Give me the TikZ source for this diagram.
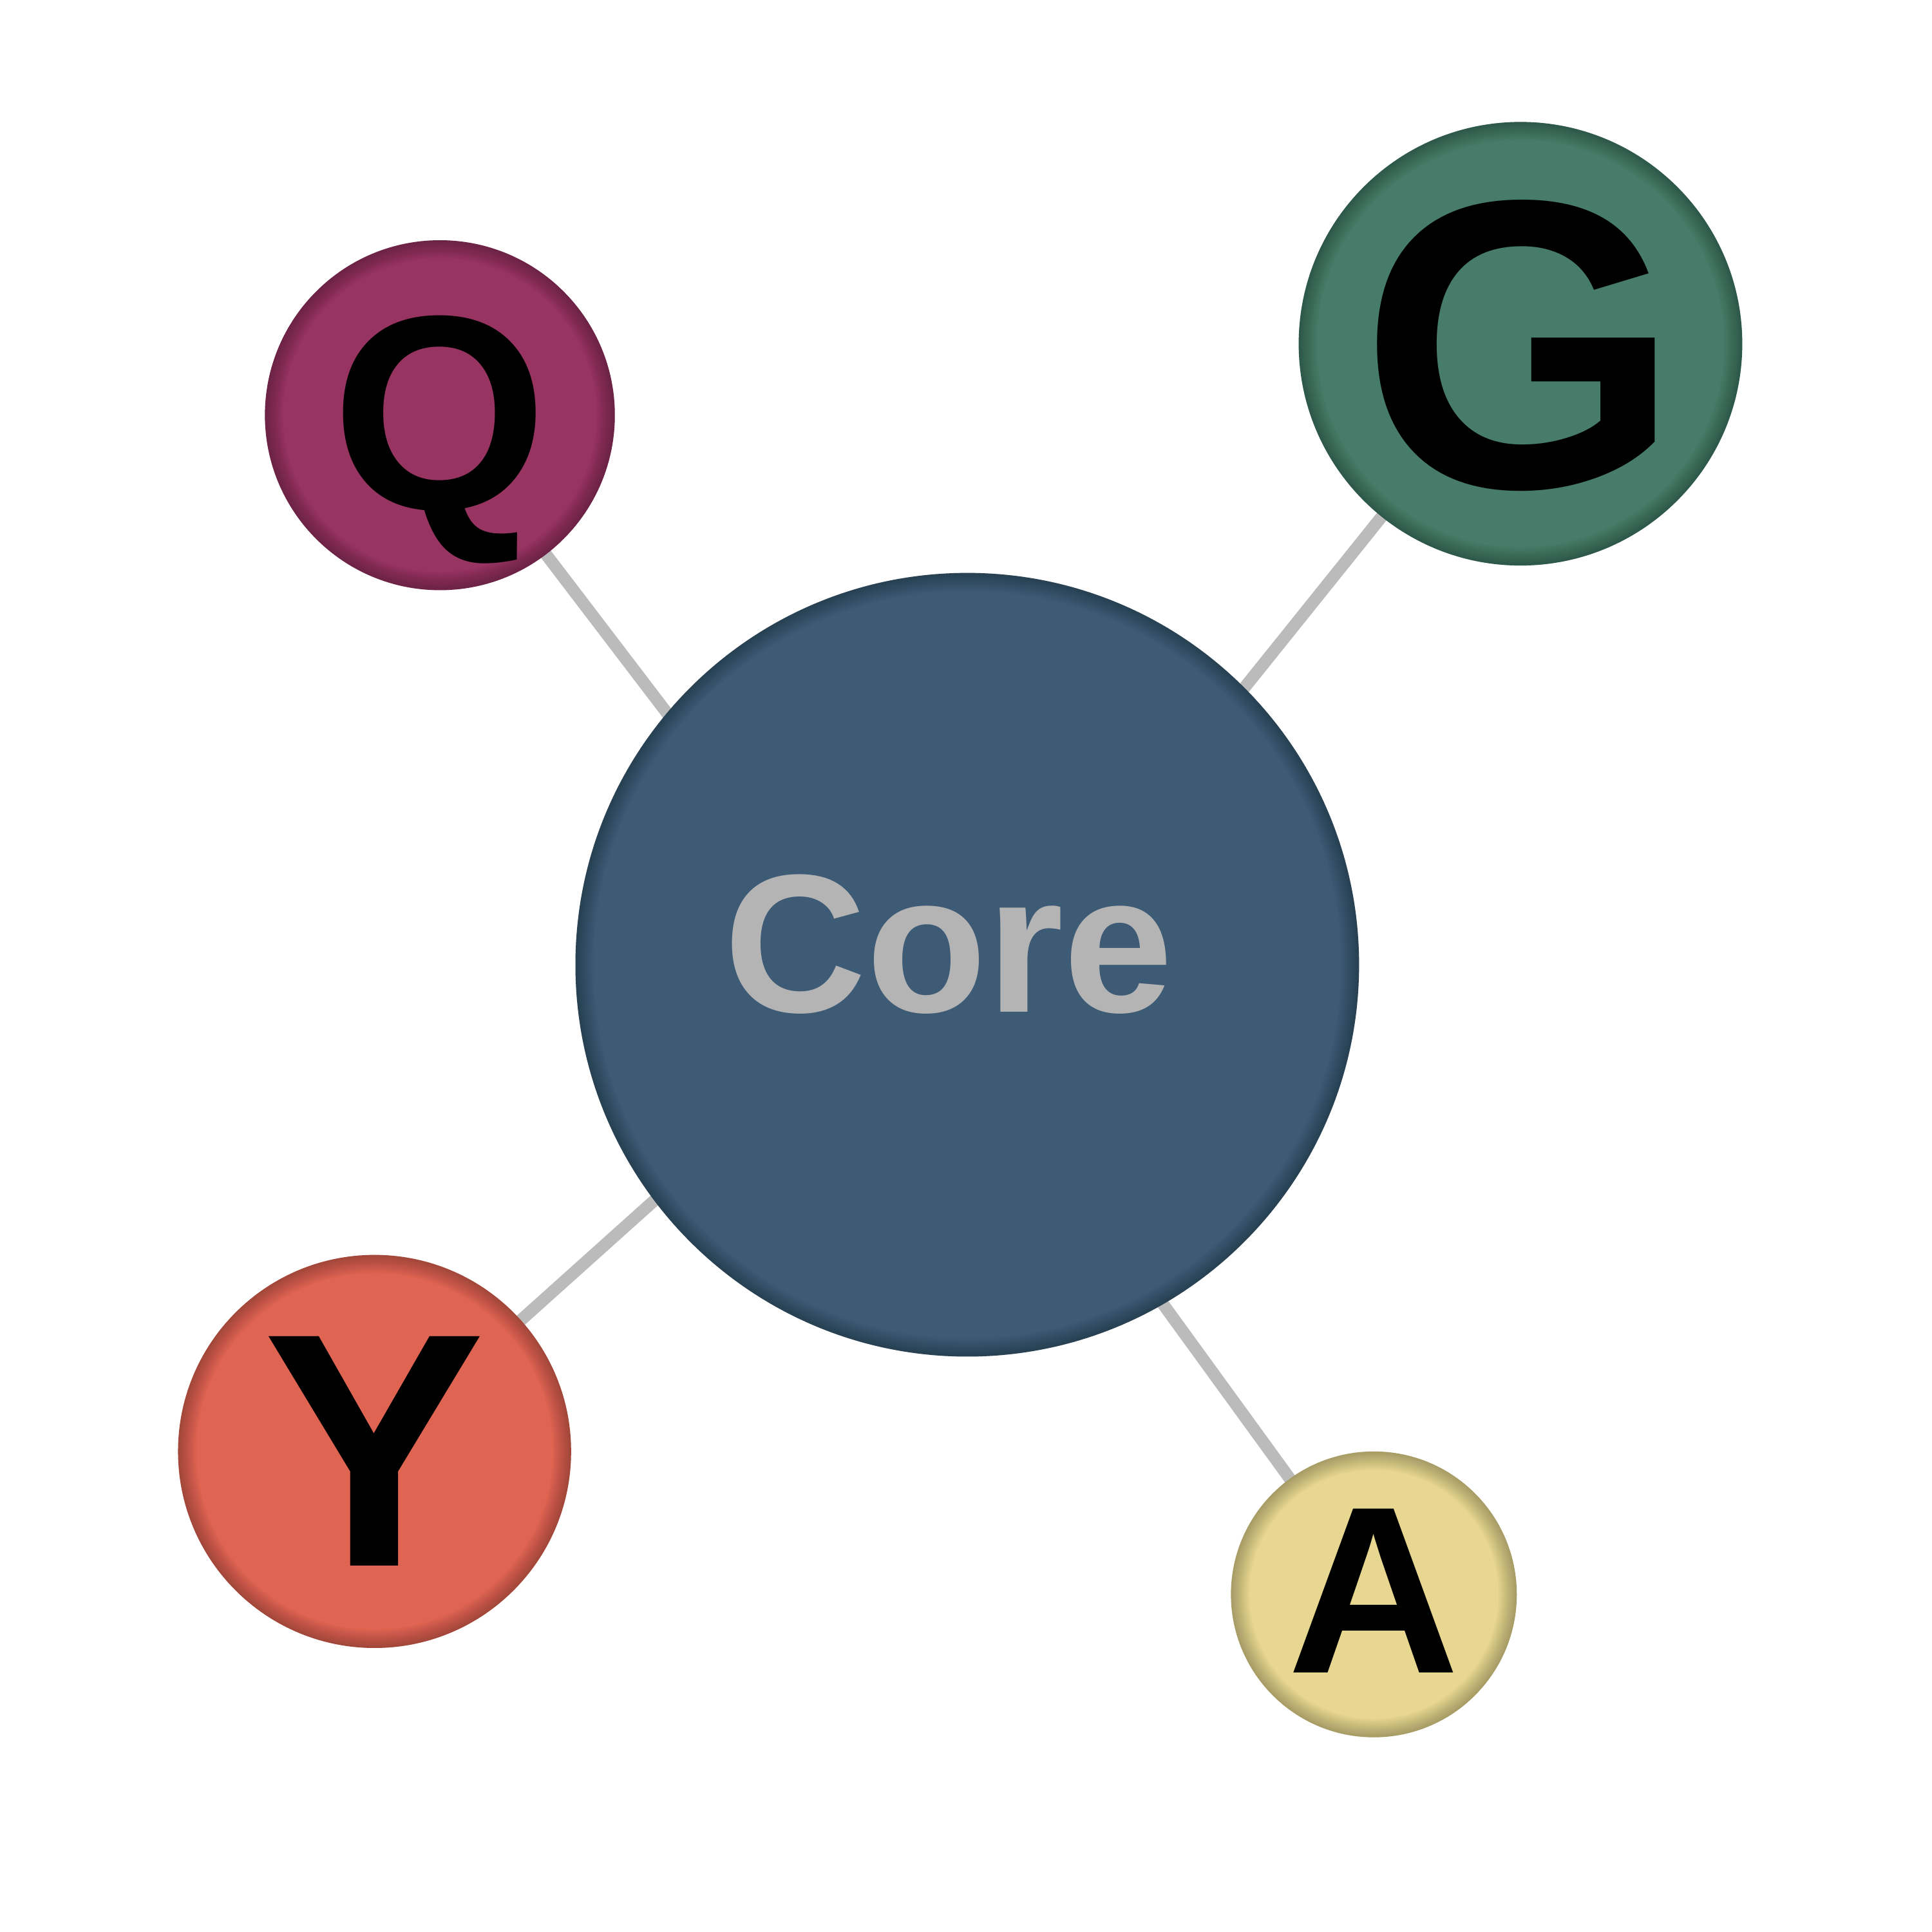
\documentclass[tikz,border=0pt]{standalone}
\usepackage{fontspec}
\setmainfont{Liberation Sans}
\usepackage{tikz}
\usetikzlibrary{calc,backgrounds}
\pgfdeclarelayer{edgelayer}
\pgfdeclarelayer{nodelayer}
\pgfsetlayers{background,edgelayer,nodelayer,main}
\definecolor{coreblue}{RGB}{62,91,118}
\definecolor{coretext}{RGB}{180,180,180}
\definecolor{qpurple}{RGB}{151,52,98}
\definecolor{ggreen}{RGB}{70,124,105}
\definecolor{yred}{RGB}{224,100,82}
\definecolor{ayellow}{RGB}{232,215,144}
\definecolor{linkgrey}{RGB}{187,187,187}
\tikzstyle{none}=[inner sep=0mm]
\tikzstyle{ball}=[shape=circle,inner sep=0pt,text depth=0pt,
	path picture={\foreach \w in {1,...,12}{\draw[black,opacity=0.022,line width=0.7*\w pt]
		let \p1=(path picture bounding box.east), \p2=(path picture bounding box.center)
		in (\p2) circle ({\x1-\x2});}}]
\tikzstyle{core}=[ball,fill=coreblue,minimum size=6.36cm,text=coretext,font=\bfseries\fontsize{45.5}{52}\selectfont]
\tikzstyle{qn}=[ball,fill=qpurple,minimum size=2.84cm,font=\bfseries\fontsize{64}{70}\selectfont]
\tikzstyle{gn}=[ball,fill=ggreen,minimum size=3.6cm,font=\bfseries\fontsize{95}{100}\selectfont]
\tikzstyle{yn}=[ball,fill=yred,minimum size=3.19cm,font=\bfseries\fontsize{77}{80}\selectfont]
\tikzstyle{an}=[ball,fill=ayellow,minimum size=2.32cm,font=\bfseries\fontsize{55}{60}\selectfont]
\tikzstyle{link}=[draw=linkgrey,line width=2.8pt,shorten >=-4pt]
\begin{document}
\begin{tikzpicture}
	\useasboundingbox (0,0) rectangle (15.68,15.68);
	\begin{pgfonlayer}{nodelayer}
		\node [style=core] (0) at (7.85, 7.85) {\raisebox{3.5mm}{Core}\hspace*{3mm}};
		\node [style=qn] (1) at (3.57, 12.31) {\raisebox{0.5mm}{Q}};
		\node [style=gn] (2) at (12.34, 12.89) {G};
		\node [style=yn] (3) at (3.04, 3.9) {Y};
		\node [style=an] (4) at (11.15, 2.74) {\raisebox{0.6mm}{A}};
	\end{pgfonlayer}
	\begin{pgfonlayer}{edgelayer}
		\draw [style=link] (1.center) to (0.140);
		\draw [style=link] (2.center) to (0.45.5);
		\draw [style=link] (3.center) to (0.217.7);
		\draw [style=link] (4.center) to (0.300.3);
	\end{pgfonlayer}
\end{tikzpicture}
\end{document}
